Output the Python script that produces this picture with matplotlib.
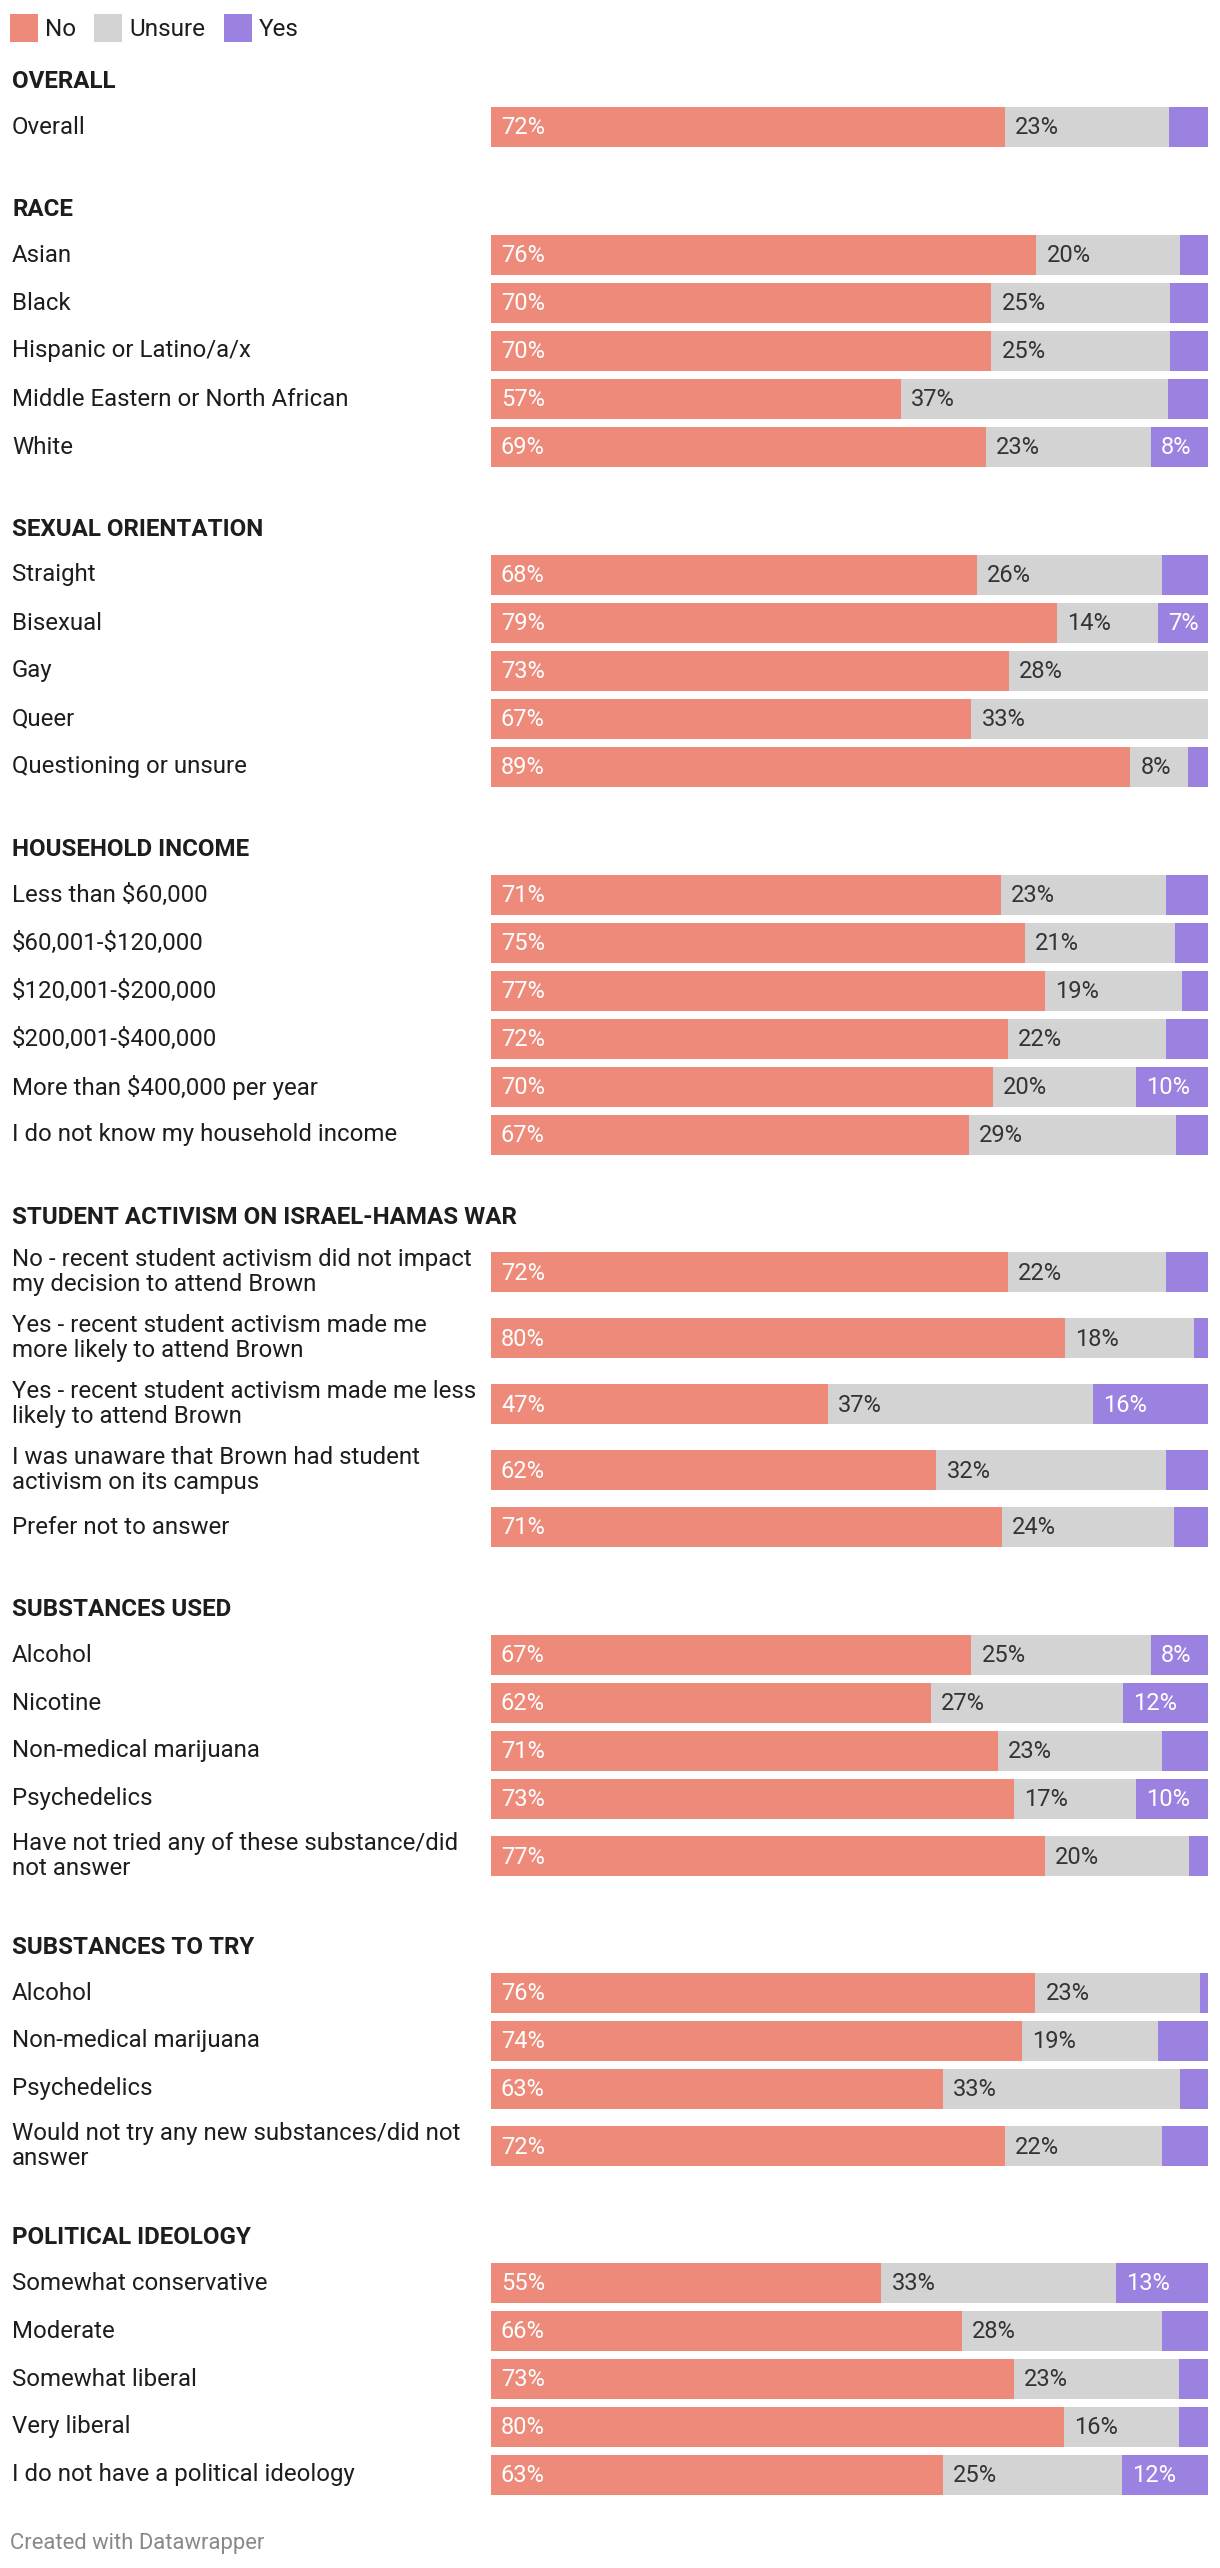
import matplotlib
matplotlib.use("Agg")
import matplotlib.pyplot as plt
from matplotlib.patches import Rectangle

plt.rcParams['font.family'] = ['Roboto', 'DejaVu Sans']

# ---------------- data ----------------
series_names = ["No", "Unsure", "Yes"]
series_colors = ["#ED8A79", "#D3D3D3", "#9B82E0"]

section_names = ["OVERALL", "RACE", "SEXUAL ORIENTATION", "HOUSEHOLD INCOME",
                 "STUDENT ACTIVISM ON ISRAEL-HAMAS WAR", "SUBSTANCES USED",
                 "SUBSTANCES TO TRY", "POLITICAL IDEOLOGY"]

overall_labels = ["Overall"]
overall_no = [72]
overall_unsure = [23]
overall_yes = [5.5]

race_labels = ["Asian", "Black", "Hispanic or Latino/a/x",
               "Middle Eastern or North African", "White"]
race_no = [76, 70, 70, 57, 69]
race_unsure = [20, 25, 25, 37, 23]
race_yes = [3.9, 5.3, 5.3, 5.6, 8]

sexual_labels = ["Straight", "Bisexual", "Gay", "Queer", "Questioning or unsure"]
sexual_no = [68, 79, 73, 67, 89]
sexual_unsure = [26, 14, 28, 33, 8]
sexual_yes = [6.4, 7, 0, 0, 2.8]

income_labels = ["Less than $60,000", "$60,001-$120,000", "$120,001-$200,000",
                 "$200,001-$400,000", "More than $400,000 per year",
                 "I do not know my household income"]
income_no = [71, 75, 77, 72, 70, 67]
income_unsure = [23, 21, 19, 22, 20, 29]
income_yes = [5.9, 4.7, 3.6, 5.9, 10, 4.5]

activism_labels = ["No - recent student activism did not impact\nmy decision to attend Brown",
                   "Yes - recent student activism made me\nmore likely to attend Brown",
                   "Yes - recent student activism made me less\nlikely to attend Brown",
                   "I was unaware that Brown had student\nactivism on its campus",
                   "Prefer not to answer"]
activism_no = [72, 80, 47, 62, 71]
activism_unsure = [22, 18, 37, 32, 24]
activism_yes = [5.8, 1.9, 16, 5.8, 4.7]

used_labels = ["Alcohol", "Nicotine", "Non-medical marijuana", "Psychedelics",
               "Have not tried any of these substance/did\nnot answer"]
used_no = [67, 62, 71, 73, 77]
used_unsure = [25, 27, 23, 17, 20]
used_yes = [8, 12, 6.4, 10, 2.7]

try_labels = ["Alcohol", "Non-medical marijuana", "Psychedelics",
              "Would not try any new substances/did not\nanswer"]
try_no = [76, 74, 63, 72]
try_unsure = [23, 19, 33, 22]
try_yes = [1.1, 6.9, 3.9, 6.4]

political_labels = ["Somewhat conservative", "Moderate", "Somewhat liberal",
                    "Very liberal", "I do not have a political ideology"]
political_no = [55, 66, 73, 80, 63]
political_unsure = [33, 28, 23, 16, 25]
political_yes = [13, 6.4, 4.1, 4.1, 12]

sections = [
    (overall_labels, overall_no, overall_unsure, overall_yes),
    (race_labels, race_no, race_unsure, race_yes),
    (sexual_labels, sexual_no, sexual_unsure, sexual_yes),
    (income_labels, income_no, income_unsure, income_yes),
    (activism_labels, activism_no, activism_unsure, activism_yes),
    (used_labels, used_no, used_unsure, used_yes),
    (try_labels, try_no, try_unsure, try_yes),
    (political_labels, political_no, political_unsure, political_yes),
]

# ---------------- layout ----------------
W, H = 1220, 2568
BAR_X0, BAR_X1 = 491, 1208
BAR_H = 40
TEXT_COLOR = "#1d1d1d"
LABEL_FS = 17.3
HEAD_FS = 17.35
VAL_FS = 17

fig = plt.figure(figsize=(W / 100, H / 100), dpi=100)
fig.patch.set_facecolor("white")

# overlay axes in pixel coordinates for text
tax = fig.add_axes([0, 0, 1, 1])
tax.set_xlim(0, W)
tax.set_ylim(H, 0)
tax.axis("off")

# bar axes: x in percent
bax = fig.add_axes([BAR_X0 / W, 0, (BAR_X1 - BAR_X0) / W, 1])
bax.set_xlim(0, 100)
bax.set_ylim(H, 0)
bax.axis("off")

# legend
leg_sq_x = [10, 94, 224]
for name, col, x in zip(series_names, series_colors, leg_sq_x):
    tax.add_patch(Rectangle((x, 14), 28, 28, facecolor=col, edgecolor="none"))
    tax.text(x + 35, 29, name, fontsize=17.5, color=TEXT_COLOR,
             va="center", ha="left")

pad_pct = 10 / (BAR_X1 - BAR_X0) * 100
y = 82
last_c = None
for sname, (labels, no, un, ye) in zip(section_names, sections):
    tax.text(12, y, sname, fontsize=HEAD_FS, fontweight="bold", color=TEXT_COLOR,
             va="center", ha="left")
    prev_c, prev_h = None, None
    for i, lab in enumerate(labels):
        h = 66 if "\n" in lab else 48
        if prev_c is None:
            c = y + 21 + h / 2
        else:
            c = prev_c + prev_h / 2 + h / 2
        tax.text(12, c, lab, fontsize=LABEL_FS, color=TEXT_COLOR, va="center",
                 ha="left", linespacing=1.12, parse_math=False)
        vals = [no[i], un[i], ye[i]]
        tot = sum(vals)
        left = 0
        for j, v in enumerate(vals):
            w = v / tot * 100
            if w > 0:
                bax.barh(c, w, left=left, height=BAR_H, color=series_colors[j],
                         edgecolor="none", linewidth=0)
                if v >= 7:
                    tcol = "#333333" if j == 1 else "white"
                    bax.text(left + pad_pct, c + 1, f"{round(v)}%", fontsize=VAL_FS,
                             color=tcol, va="center", ha="left")
            left += w
        prev_c, prev_h = c, h
    last_c = prev_c
    y = prev_c + prev_h / 2 + 59

tax.text(10, last_c + 69, "Created with Datawrapper", fontsize=15.8, color="#888888",
         va="center", ha="left")

fig.savefig("out.png", dpi=100, facecolor="white")
